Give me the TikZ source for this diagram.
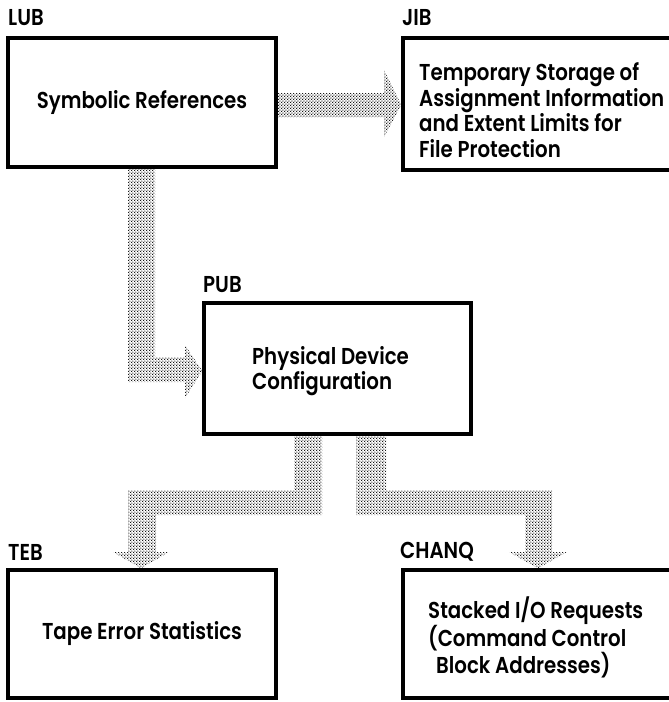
\documentclass[tikz,border=0pt]{standalone}
\usepackage{fontspec}
\setmainfont{Poppins}[UprightFont={* SemiBold}, FakeStretch=0.86]
\usetikzlibrary{patterns,backgrounds}
\pgfdeclarepatternformonly{bigdots}{\pgfqpoint{0pt}{0pt}}{\pgfqpoint{3.2pt}{3.2pt}}{\pgfqpoint{3.2pt}{3.2pt}}{%
  \pgfpathcircle{\pgfqpoint{0.8pt}{0.8pt}}{0.78pt}%
  \pgfpathcircle{\pgfqpoint{2.4pt}{2.4pt}}{0.78pt}%
  \pgfusepath{fill}}
\begin{document}
\begin{tikzpicture}[x=1pt,y=-1pt,
  box/.style={draw, line width=3.5pt, inner sep=0pt},
  lbl/.style={anchor=west, inner sep=0pt},
  txt/.style={align=left, anchor=west, inner sep=0pt},
  flow/.style={pattern=bigdots, pattern color=black},
  every node/.style={font=\fontsize{23}{25.5}\selectfont}]
\useasboundingbox (0,0) rectangle (669,702);

\node[box, minimum width=268pt, minimum height=129pt] (lub) at (142,102.5) {Symbolic References};
\node[lbl] (lubl) at (8,18) {LUB};

\node[box, minimum width=280pt, minimum height=132pt] (jib) at (543,104) {};
\node[txt] (jibt) at (419,110) {Temporary Storage of\\Assignment Information\\and Extent Limits for\\File Protection};
\node[lbl] (jibl) at (402,18) {JIB};

\node[box, minimum width=267pt, minimum height=131pt] (pub) at (337.5,368.5) {};
\node[txt] (pubt) at (252,371) {Physical Device\\Configuration};
\node[lbl] (publ) at (203,285) {PUB};

\node[box, minimum width=268pt, minimum height=128pt] (teb) at (142,634) {Tape Error Statistics};
\node[lbl] (tebl) at (8,552) {TEB};

\node[box, minimum width=280pt, minimum height=128pt] (chanq) at (543,634) {};
\node[txt] (chanqt) at (428,637) {Stacked I/O Requests\\(Command Control\\\hspace*{8pt}Block Addresses)};
\node[lbl] (chanql) at (400,552) {CHANQ};

\begin{scope}[on background layer]
\fill[flow] (lub.east |- 0,93) -- (384,93) -- (384,70) -- (jib.west |- 0,105)
  -- (384,137) -- (384,117) -- (lub.east |- 0,117) -- cycle;
\fill[flow] (lub.south -| 128,0) -- (lub.south -| 155,0) -- (155,357) -- (185,357)
  -- (185,345) -- (pub.west |- 0,371) -- (185,398) -- (185,382) -- (128,382) -- cycle;
\fill[flow] (pub.south -| 294,0) -- (pub.south -| 322,0) -- (322,515) -- (156,515)
  -- (156,552) -- (169,552) -- (teb.north -| 141,0) -- (113,552) -- (128,552)
  -- (128,490) -- (294,490) -- cycle;
\fill[flow] (pub.south -| 356,0) -- (pub.south -| 386,0) -- (386,490) -- (552,490)
  -- (552,552) -- (567,552) -- (chanq.north -| 538,0) -- (509,552) -- (525,552)
  -- (525,515) -- (356,515) -- cycle;
\end{scope}
\end{tikzpicture}
\end{document}
